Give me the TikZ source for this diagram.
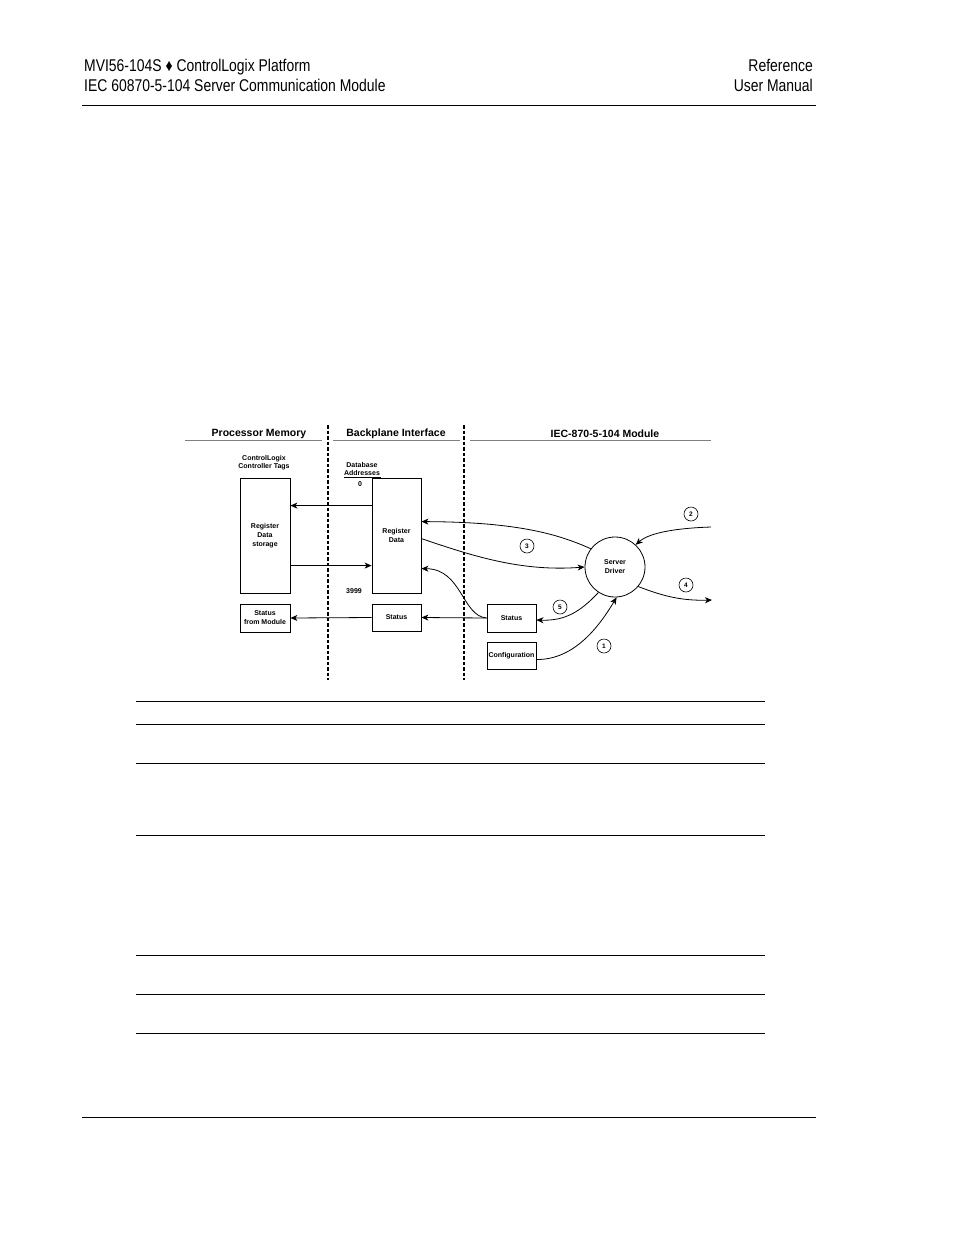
\documentclass[tikz,border=0pt]{standalone}
\usepackage{fontspec}
\setmainfont{Liberation Sans}
\newfontfamily\narrowfont[FakeStretch=0.82]{Liberation Sans}
\usetikzlibrary{arrows.meta,calc}
\begin{document}
\begin{tikzpicture}[x=1pt,y=-1pt,
  hdr/.style={font=\narrowfont\fontsize{17}{20}\selectfont, inner sep=0},
  rule/.style={line width=0.9pt},
  trule/.style={line width=0.8pt},
  title/.style={font=\bfseries\fontsize{10.5}{12}\selectfont, inner sep=0},
  small/.style={font=\bfseries\fontsize{7}{8.5}\selectfont, align=center, inner sep=0},
  box/.style={draw, line width=0.8pt, inner sep=0, align=center, font=\bfseries\fontsize{7}{9}\selectfont},
  num/.style={circle, draw, line width=0.6pt, minimum size=14, inner sep=0, font=\bfseries\fontsize{6.5}{7}\selectfont},
  divider/.style={line width=1.1pt, dash pattern=on 3.5pt off 2pt},
  tline/.style={line width=0.6pt, gray},
  arr/.style={line width=0.8pt, -{Stealth[length=7pt,width=6pt,inset=2pt]}}
]
\useasboundingbox (0,0) rectangle (954,1235);
\fill[white] (0,0) rectangle (954,1235);

% page header
\node[hdr, anchor=base west] (h1) at (84,71) {MVI56-104S ♦ ControlLogix Platform};
\node[hdr, anchor=base west] (h2) at (84,91) {IEC 60870-5-104 Server Communication Module};
\node[hdr, anchor=base east] (h3) at (813,71) {Reference};
\node[hdr, anchor=base east] (h4) at (813,91) {User Manual};
\draw[rule] (82,105) -- (816,105);
\draw[rule] (82,1117) -- (816,1117);

% table rules
\foreach \yy in {701,724,763,835,955,994,1033}
  \draw[trule] (136,\yy) -- (765,\yy);

% column titles
\node[title] (t1) at (259,434) {Processor Memory};
\node[title] (t2) at (396,434) {Backplane Interface};
\node[title] (t3) at (605,434) {IEC-870-5-104 Module};
\draw[tline] (185,440) -- (322,440);
\draw[tline] (333,440) -- (460,440);
\draw[tline] (470,440) -- (711,440);

% dashed dividers
\draw[divider] (328,425) -- (328,680);
\draw[divider] (464,425) -- (464,680);

% labels
\node[small] (tags) at (264,462.5) {ControlLogix\\Controller Tags};
\node[small] (dba) at (362,469) {Database\\Addresses};
\draw[line width=0.6pt] (344,477) -- (381,477);
\node[small] (zero) at (360,484) {0};
\node[small] (last) at (354,591) {3999};

% boxes
\node[box, minimum width=50, minimum height=115] (storage) at (265,535.5) {Register\\Data\\storage};
\node[box, minimum width=49, minimum height=115] (regdata) at (396.5,535.5) {Register\\Data};
\node[box, minimum width=50, minimum height=28] (statmod) at (265,618) {Status\\from Module};
\node[box, minimum width=49, minimum height=27] (statbp) at (396.5,617.5) {Status};
\node[box, minimum width=49, minimum height=28] (statm) at (511.5,618) {Status};
\node[box, minimum width=49, minimum height=27] (config) at (511.5,655.5) {Configuration};
\node[draw, circle, line width=0.8pt, minimum size=60, inner sep=0, align=center,
      font=\bfseries\fontsize{7}{9}\selectfont] (driver) at (615,567) {Server\\Driver};

% free ends
\coordinate (in2) at (711,527);
\coordinate (out4) at (712,600);

% straight connectors
\draw[arr] ($(regdata.north west)+(0,28)$) -- ($(storage.north east)+(0,28)$);
\draw[arr] ($(storage.north east)+(0,88)$) -- ($(regdata.north west)+(0,88)$);
\draw[arr] (statbp.west) -- (statmod.east);
\draw[arr] (statm.west) -- (statbp.east);

% curved connectors
\draw[arr] (driver.143) .. controls (560,535) and (520,522) .. ($(regdata.north east)+(0,44)$);
\draw[arr] ($(regdata.north east)+(0,61)$) .. controls (470,555) and (520,572) .. (driver.west);
\draw[arr] (in2) .. controls (680,528) and (650,532) .. (driver.47);
\draw[arr] (driver.-40) .. controls (660,595) and (680,601) .. (out4);
\draw[arr] (driver.-123) .. controls (580,612) and (565,621) .. ($(statm.east)+(0,2)$);
\draw[arr] ($(config.east)+(0,4)$) .. controls (575,660) and (600,625) .. (driver.-87);
\draw[arr] (statm.west) .. controls (462,616) and (462,569) .. ($(regdata.north east)+(0,91)$);

% circled step numbers
\node[num] (n1) at (604,646) {1};
\node[num] (n2) at (691,514) {2};
\node[num] (n3) at (527,546) {3};
\node[num] (n4) at (686,585) {4};
\node[num] (n5) at (560,607) {5};
\end{tikzpicture}
\end{document}
